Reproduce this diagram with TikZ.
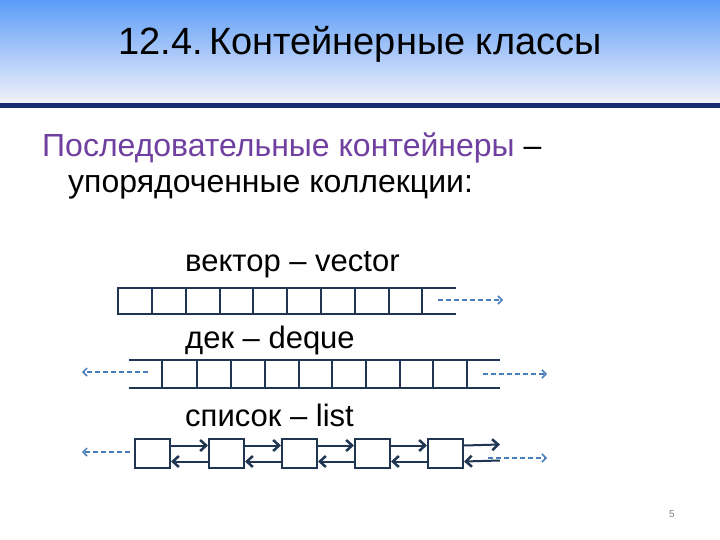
\documentclass[tikz,border=0pt]{standalone}
\usepackage{fontspec}
\setmainfont{Liberation Sans}
\usetikzlibrary{arrows.meta}
\definecolor{hdrtop}{HTML}{5C9CF7}
\definecolor{hdrbot}{HTML}{F2F2FA}
\definecolor{dkblue}{HTML}{1F3552}
\definecolor{dashblue}{HTML}{4A7EBB}
\definecolor{purp}{HTML}{7040A0}
\tikzset{
  cell/.style={draw=dkblue,line width=2pt},
  dasharr/.style={draw=dashblue,line width=1.5pt,dash pattern=on 5pt off 3pt,-{Straight Barb[length=4pt,width=8pt]}},
  linkarr/.style={draw=dkblue,line width=2pt,-{Straight Barb[length=6pt,width=11pt,line width=2.5pt]}},
  lbl/.style={anchor=west,font=\fontsize{31}{34}\selectfont,inner sep=0pt}
}
\begin{document}
\begin{tikzpicture}[x=1pt,y=-1pt]
\useasboundingbox (0,0) rectangle (720,540);
\fill[white] (0,0) rectangle (720,540);
\shade[top color=hdrtop,bottom color=hdrbot] (0,0) rectangle (720,103);
\fill[dkblue!80!blue] (0,103) rectangle (720,108);
\node (title) at (360,44) {\fontsize{38}{42}\selectfont 12.4.\,Контейнерные классы};
\node[anchor=west,inner sep=0pt] (l1) at (42,148) {\fontsize{32}{36}\selectfont{\color{purp}Последовательные контейнеры} –};
\node[anchor=west,inner sep=0pt] (l2) at (68,187) {\fontsize{32}{36}\selectfont упорядоченные коллекции:};
% vector
\node[lbl] (tv) at (185,265) {вектор – vector};
\draw[cell] (456,288) -- (118,288) -- (118,314) -- (456,314);
\foreach \x in {152,186,220,253,287,321,355,389,422} \draw[cell] (\x,288) -- (\x,314);
\coordinate (va) at (438,300); \coordinate (vb) at (503,300);
\draw[dasharr] (va) -- (vb);
% deque
\node[lbl] (td) at (185,340) {дек – deque};
\draw[cell] (129,360) -- (500,360);
\draw[cell] (129,388) -- (500,388);
\foreach \x in {162,197,231,265,299,332,366,400,433,467} \draw[cell] (\x,360) -- (\x,388);
\coordinate (dl1) at (148,372); \coordinate (dl2) at (82,372);
\coordinate (dr1) at (483,374); \coordinate (dr2) at (547,374);
\draw[dasharr] (dl1) -- (dl2);
\draw[dasharr] (dr1) -- (dr2);
% list
\node[lbl] (tl) at (185,415) {список – list};
\foreach \i/\x in {1/134,2/208,3/281,4/354,5/427}
  \node[cell,minimum width=35pt,minimum height=29pt,inner sep=0pt,anchor=north west] (n\i) at (\x,438) {};
\foreach \a/\b in {1/2,2/3,3/4,4/5} {
  \draw[linkarr] ([yshift=8pt]n\a.east) -- ([yshift=8pt]n\b.west);
  \draw[linkarr] ([yshift=-8pt]n\b.west) -- ([yshift=-8pt]n\a.east);
}
\coordinate (le) at (500,444.5); \coordinate (lb) at (500,460.5);
\draw[linkarr] ([yshift=8pt]n5.east) -- (le);
\draw[linkarr] (lb) -- ([yshift=-8pt]n5.east);
\coordinate (ll1) at (130,452); \coordinate (ll2) at (82,452);
\coordinate (lr1) at (488,458); \coordinate (lr2) at (547,458);
\draw[dasharr] (ll1) -- (ll2);
\draw[dasharr] (lr1) -- (lr2);
\node[text=gray,font=\fontsize{10}{12}\selectfont] (pg) at (672,514) {5};
\end{tikzpicture}
\end{document}
